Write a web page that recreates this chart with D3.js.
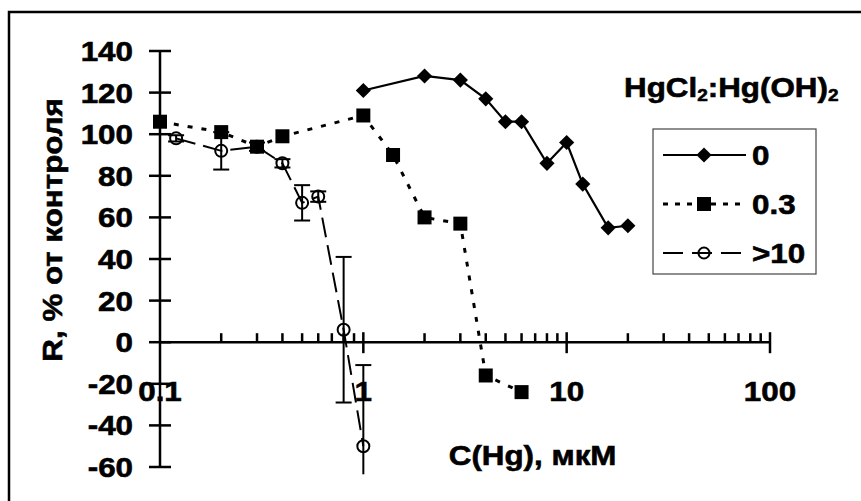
<!DOCTYPE html>
<html>
<head>
<meta charset="utf-8">
<script src="https://cdn.jsdelivr.net/npm/d3@7"></script>
<style>
  body { margin: 0; background: #fff; }
  text { font-family: "Liberation Sans", Arial, sans-serif; font-weight: bold; fill: #000; stroke: #000; stroke-width: 0.6px; }
</style>
</head>
<body>
<div id="chart"></div>
<script>
// data
const xTicks = [0.1, 1, 10, 100];
const xTickLabels = ['0.1', '1', '10', '100'];
const yTicks = [-60, -40, -20, 0, 20, 40, 60, 80, 100, 120, 140];

const seriesNames = ['0', '0.3', '>10'];

// HgCl2:Hg(OH)2 = 0
const cHg0 = [1, 2, 3, 4, 5, 6, 8, 10, 12, 16, 20];
const r0 = [121, 128, 126, 117, 106, 106, 86, 96, 76, 55, 56];

// HgCl2:Hg(OH)2 = 0.3
const cHg03 = [0.1, 0.2, 0.3, 0.4, 1, 1.4, 2, 3, 4, 6];
const r03 = [106, 101, 94, 99, 109, 90, 60, 57, -16, -24];

// HgCl2:Hg(OH)2 > 10, with error bars
const cHg10 = [0.12, 0.2, 0.3, 0.4, 0.5, 0.6, 0.8, 1];
const r10 = [98, 92, 94, 86, 67, 70, 6, -50];
const err10 = [1.5, 9, 2, 2, 8.5, 2.5, 35, 39];

// lowest value an error bar reaches before it is cut off
const errClip = -63.5;

const W = 861, H = 501;
const fontSize = 28;
// the original lettering is a little wider than Arial
const stretch = 1.12;

const svg = d3.select('#chart')
  .append('svg')
  .attr('width', W)
  .attr('height', H);

// outer frame, right and bottom sides fall outside the picture
svg.append('rect')
  .attr('x', 9).attr('y', 12)
  .attr('width', 900).attr('height', 600)
  .attr('fill', 'none')
  .attr('stroke', '#000')
  .attr('stroke-width', 2.5);

const x = d3.scaleLog().domain([0.1, 100]).range([160, 770]);
const y = d3.scaleLinear().domain([-60, 140]).range([467, 51]);

const axisG = svg.append('g');

// y axis: line plus ticks crossing it
axisG.append('line')
  .attr('x1', x(0.1)).attr('x2', x(0.1))
  .attr('y1', y(140)).attr('y2', y(-60))
  .attr('stroke', '#000').attr('stroke-width', 2.5);

axisG.selectAll('.ytick')
  .data(yTicks)
  .enter()
  .append('line')
  .attr('x1', x(0.1) - 11).attr('x2', x(0.1) + 11)
  .attr('y1', d => y(d)).attr('y2', d => y(d))
  .attr('stroke', '#000').attr('stroke-width', 2.5);

axisG.selectAll('.ylabel')
  .data(yTicks)
  .enter()
  .append('text')
  .attr('transform', d => `translate(${x(0.1) - 27} ${y(d)}) scale(${stretch} 1)`)
  .attr('dy', '0.36em')
  .attr('text-anchor', 'end')
  .attr('font-size', fontSize)
  .text(d => d);

// x axis at R = 0
axisG.append('line')
  .attr('x1', x(0.1)).attr('x2', x(100))
  .attr('y1', y(0)).attr('y2', y(0))
  .attr('stroke', '#000').attr('stroke-width', 2.5);

// minor ticks only above the line
const minor = [];
[0.1, 1, 10].forEach(dec => d3.range(2, 10).forEach(k => minor.push(dec * k)));
axisG.selectAll('.xminor')
  .data(minor)
  .enter()
  .append('line')
  .attr('x1', d => x(d)).attr('x2', d => x(d))
  .attr('y1', y(0) - 9).attr('y2', y(0))
  .attr('stroke', '#000').attr('stroke-width', 2.5);

// major ticks cross the line
axisG.selectAll('.xmajor')
  .data(xTicks.slice(1))
  .enter()
  .append('line')
  .attr('x1', d => x(d)).attr('x2', d => x(d))
  .attr('y1', y(0) - 10).attr('y2', y(0) + 11)
  .attr('stroke', '#000').attr('stroke-width', 2.5);

axisG.selectAll('.xlabel')
  .data(xTicks)
  .enter()
  .append('text')
  .attr('transform', d => `translate(${x(d)} ${y(0) + 59}) scale(${stretch} 1)`)
  .attr('text-anchor', 'middle')
  .attr('font-size', fontSize)
  .text((d, i) => xTickLabels[i]);

// axis titles
svg.append('text')
  .attr('transform', `translate(62 ${y(54)}) rotate(-90) scale(${stretch} 1)`)
  .attr('text-anchor', 'middle')
  .attr('font-size', fontSize)
  .text('R, % от контроля');

svg.append('text')
  .attr('transform', `translate(${x(6.8)} ${y(-59)}) scale(${stretch} 1)`)
  .attr('text-anchor', 'middle')
  .attr('font-size', fontSize)
  .text('C(Hg), мкМ');

// series
const line = d3.line().x(d => x(d[0])).y(d => y(d[1]));
const plotG = svg.append('g');

// >10 : long dashes, open circles, error bars
const pts10 = cHg10.map((c, i) => [c, r10[i], err10[i]]);
plotG.append('path')
  .attr('d', line(pts10))
  .attr('fill', 'none')
  .attr('stroke', '#000')
  .attr('stroke-width', 2)
  .attr('stroke-dasharray', '20 8');

const errG = plotG.selectAll('.err')
  .data(pts10)
  .enter()
  .append('g');

errG.append('line')
  .attr('x1', d => x(d[0])).attr('x2', d => x(d[0]))
  .attr('y1', d => y(d[1] + d[2]))
  .attr('y2', d => y(Math.max(d[1] - d[2], errClip)))
  .attr('stroke', '#000').attr('stroke-width', 2);

errG.append('line')
  .attr('x1', d => x(d[0]) - 8).attr('x2', d => x(d[0]) + 8)
  .attr('y1', d => y(d[1] + d[2])).attr('y2', d => y(d[1] + d[2]))
  .attr('stroke', '#000').attr('stroke-width', 2);

errG.filter(d => d[1] - d[2] >= errClip)
  .append('line')
  .attr('x1', d => x(d[0]) - 8).attr('x2', d => x(d[0]) + 8)
  .attr('y1', d => y(d[1] - d[2])).attr('y2', d => y(d[1] - d[2]))
  .attr('stroke', '#000').attr('stroke-width', 2);

plotG.selectAll('.c10')
  .data(pts10)
  .enter()
  .append('circle')
  .attr('cx', d => x(d[0]))
  .attr('cy', d => y(d[1]))
  .attr('r', 6)
  .attr('fill', 'none')
  .attr('stroke', '#000')
  .attr('stroke-width', 2);

// 0.3 : short dashes, filled squares
const pts03 = cHg03.map((c, i) => [c, r03[i]]);
plotG.append('path')
  .attr('d', line(pts03))
  .attr('fill', 'none')
  .attr('stroke', '#000')
  .attr('stroke-width', 3)
  .attr('stroke-dasharray', '5 9');

const sq = 14;
plotG.selectAll('.s03')
  .data(pts03)
  .enter()
  .append('rect')
  .attr('x', d => x(d[0]) - sq / 2)
  .attr('y', d => y(d[1]) - sq / 2)
  .attr('width', sq).attr('height', sq)
  .attr('fill', '#000');

// 0 : solid line, diamonds
const pts0 = cHg0.map((c, i) => [c, r0[i]]);
plotG.append('path')
  .attr('d', line(pts0))
  .attr('fill', 'none')
  .attr('stroke', '#000')
  .attr('stroke-width', 2.2);

const diamond = d3.symbol().type(d3.symbolSquare).size(115);
plotG.selectAll('.d0')
  .data(pts0)
  .enter()
  .append('path')
  .attr('d', diamond)
  .attr('transform', d => `translate(${x(d[0])} ${y(d[1])}) rotate(45)`)
  .attr('fill', '#000');

// legend
const legendTitle = svg.append('text')
  .attr('transform', `translate(624 97) scale(${stretch} 1)`)
  .attr('font-size', fontSize);
legendTitle.append('tspan').text('HgCl');
legendTitle.append('tspan').attr('font-size', 17).attr('dy', 4).text('2');
legendTitle.append('tspan').attr('dy', -4).text(':Hg(OH)');
legendTitle.append('tspan').attr('font-size', 17).attr('dy', 4).text('2');

svg.append('rect')
  .attr('x', 653).attr('y', 129)
  .attr('width', 163).attr('height', 145)
  .attr('fill', '#fff')
  .attr('stroke', '#444')
  .attr('stroke-width', 1.2);

const legendY = d3.scalePoint().domain(seriesNames).range([155, 253]);
const lx1 = 663, lx2 = 746, lmid = 704;

// row 0
svg.append('line')
  .attr('x1', lx1).attr('x2', lx2)
  .attr('y1', legendY('0')).attr('y2', legendY('0'))
  .attr('stroke', '#000').attr('stroke-width', 2.2);
svg.append('path')
  .attr('d', diamond)
  .attr('transform', `translate(${lmid} ${legendY('0')}) rotate(45)`)
  .attr('fill', '#000');

// row 0.3
svg.append('line')
  .attr('x1', lx1).attr('x2', lx2)
  .attr('y1', legendY('0.3')).attr('y2', legendY('0.3'))
  .attr('stroke', '#000').attr('stroke-width', 3)
  .attr('stroke-dasharray', '5 7');
svg.append('rect')
  .attr('x', lmid - sq / 2).attr('y', legendY('0.3') - sq / 2)
  .attr('width', sq).attr('height', sq)
  .attr('fill', '#000');

// row >10
svg.append('line')
  .attr('x1', lx1).attr('x2', lx2)
  .attr('y1', legendY('>10')).attr('y2', legendY('>10'))
  .attr('stroke', '#000').attr('stroke-width', 2)
  .attr('stroke-dasharray', '20 9');
svg.append('circle')
  .attr('cx', lmid).attr('cy', legendY('>10'))
  .attr('r', 5.5)
  .attr('fill', 'none')
  .attr('stroke', '#000').attr('stroke-width', 2);

svg.selectAll('.legText')
  .data(seriesNames)
  .enter()
  .append('text')
  .attr('transform', d => `translate(752 ${legendY(d)}) scale(${stretch} 1)`)
  .attr('dy', '0.36em')
  .attr('font-size', fontSize)
  .text(d => d);
</script>
</body>
</html>
